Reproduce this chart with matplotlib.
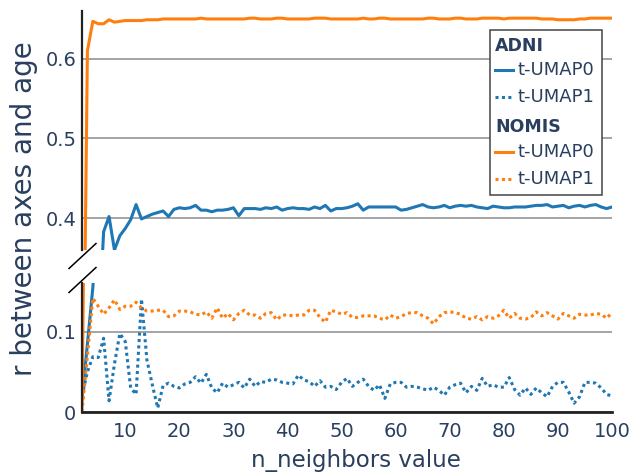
import numpy as np
import matplotlib
matplotlib.use("Agg")
import matplotlib.pyplot as plt
from matplotlib.lines import Line2D
from matplotlib.patches import Rectangle

n_neighbors = np.arange(2, 101)

adni_umap0 = [
    0.015, 0.085, 0.155, 0.250, 0.383, 0.402, 0.360, 0.378, 0.387, 0.398,
    0.417, 0.399, 0.402, 0.405, 0.407, 0.409, 0.402, 0.411, 0.413, 0.412,
    0.413, 0.416, 0.410, 0.410, 0.408, 0.410, 0.410, 0.411, 0.413, 0.403,
    0.412, 0.412, 0.412, 0.411, 0.413, 0.412, 0.414, 0.410, 0.412, 0.413,
    0.412, 0.412, 0.411, 0.414, 0.412, 0.416, 0.409, 0.412, 0.412, 0.413,
    0.415, 0.418, 0.410, 0.414, 0.414, 0.414, 0.414, 0.414, 0.414, 0.410,
    0.411, 0.413, 0.415, 0.417, 0.414, 0.413, 0.414, 0.416, 0.413, 0.415,
    0.416, 0.415, 0.416, 0.414, 0.413, 0.412, 0.415, 0.414, 0.413, 0.413,
    0.414, 0.414, 0.414, 0.415, 0.416, 0.416, 0.417, 0.414, 0.415, 0.416,
    0.413, 0.415, 0.416, 0.414, 0.416, 0.417, 0.414, 0.412, 0.414,
]
adni_umap1 = [
    0.020, 0.050, 0.069, 0.068, 0.092, 0.014, 0.060, 0.098, 0.088, 0.030,
    0.022, 0.141, 0.065, 0.034, 0.005, 0.033, 0.036, 0.032, 0.030, 0.035,
    0.037, 0.044, 0.036, 0.047, 0.030, 0.024, 0.036, 0.031, 0.034, 0.037,
    0.030, 0.041, 0.032, 0.038, 0.037, 0.041, 0.040, 0.037, 0.036, 0.035,
    0.046, 0.040, 0.038, 0.032, 0.039, 0.031, 0.032, 0.028, 0.037, 0.042,
    0.032, 0.037, 0.041, 0.032, 0.027, 0.034, 0.017, 0.035, 0.037, 0.037,
    0.031, 0.032, 0.031, 0.029, 0.027, 0.031, 0.027, 0.021, 0.031, 0.034,
    0.036, 0.024, 0.032, 0.027, 0.042, 0.032, 0.034, 0.031, 0.031, 0.043,
    0.028, 0.021, 0.030, 0.022, 0.030, 0.024, 0.019, 0.032, 0.037, 0.037,
    0.025, 0.011, 0.019, 0.037, 0.037, 0.036, 0.030, 0.022, 0.020,
]
nomis_umap0 = [
    0.005, 0.610, 0.647, 0.644, 0.644, 0.649, 0.646, 0.647, 0.648, 0.648,
    0.648, 0.648, 0.649, 0.649, 0.649, 0.650, 0.650, 0.650, 0.650, 0.650,
    0.650, 0.650, 0.651, 0.650, 0.650, 0.650, 0.650, 0.650, 0.650, 0.650,
    0.650, 0.651, 0.651, 0.650, 0.650, 0.650, 0.651, 0.651, 0.650, 0.650,
    0.650, 0.650, 0.650, 0.651, 0.651, 0.651, 0.650, 0.650, 0.650, 0.650,
    0.650, 0.650, 0.651, 0.650, 0.650, 0.651, 0.651, 0.650, 0.650, 0.650,
    0.650, 0.650, 0.650, 0.650, 0.651, 0.651, 0.650, 0.650, 0.650, 0.651,
    0.651, 0.650, 0.650, 0.650, 0.651, 0.651, 0.651, 0.651, 0.650, 0.651,
    0.651, 0.651, 0.651, 0.651, 0.651, 0.650, 0.650, 0.650, 0.649, 0.649,
    0.649, 0.649, 0.650, 0.650, 0.651, 0.651, 0.651, 0.651, 0.651,
]
nomis_umap1 = [
    0.000, 0.070, 0.142, 0.132, 0.122, 0.130, 0.140, 0.128, 0.132, 0.132,
    0.137, 0.130, 0.126, 0.126, 0.127, 0.127, 0.119, 0.120, 0.126, 0.126,
    0.125, 0.122, 0.121, 0.125, 0.117, 0.130, 0.117, 0.123, 0.115, 0.123,
    0.127, 0.121, 0.121, 0.117, 0.123, 0.124, 0.115, 0.121, 0.121, 0.120,
    0.121, 0.121, 0.127, 0.127, 0.118, 0.112, 0.127, 0.125, 0.122, 0.124,
    0.118, 0.118, 0.120, 0.120, 0.120, 0.117, 0.115, 0.121, 0.117, 0.119,
    0.123, 0.124, 0.124, 0.120, 0.117, 0.110, 0.119, 0.124, 0.125, 0.124,
    0.122, 0.117, 0.116, 0.119, 0.115, 0.119, 0.117, 0.120, 0.127, 0.117,
    0.123, 0.117, 0.116, 0.118, 0.125, 0.120, 0.124, 0.120, 0.116, 0.123,
    0.120, 0.117, 0.122, 0.121, 0.121, 0.123, 0.122, 0.117, 0.124,
]

x_ticks = [10, 20, 30, 40, 50, 60, 70, 80, 90, 100]
top_ticks = [0.4, 0.5, 0.6]
top_labels = ["0.4", "0.5", "0.6"]
bottom_ticks = [0, 0.1]
bottom_labels = ["0", "0.1"]

BLUE = "#1f77b4"
ORANGE = "#ff7f0e"
TEXT = "#2a3f5f"
GRID = "#8c8c8c"
W, H = 634, 476

series = [
    ("ADNI", "t-UMAP0", adni_umap0, BLUE, "-"),
    ("ADNI", "t-UMAP1", adni_umap1, BLUE, (0, (1, 1.1))),
    ("NOMIS", "t-UMAP0", nomis_umap0, ORANGE, "-"),
    ("NOMIS", "t-UMAP1", nomis_umap1, ORANGE, (0, (1, 1.1))),
]


def fx(px):
    return px / W


def fy(py):
    return 1 - py / H


fig = plt.figure(figsize=(W / 100, H / 100), dpi=100)
ax_top = fig.add_axes([fx(82), fy(250), fx(612) - fx(82), fy(11) - fy(250)])
ax_bot = fig.add_axes([fx(82), fy(412), fx(612) - fx(82), fy(283) - fy(412)])

for ax in (ax_top, ax_bot):
    for name, label, vals, color, ls in series:
        ax.plot(n_neighbors, vals, color=color, linestyle=ls, linewidth=2.2,
                dash_capstyle="butt", solid_joinstyle="round")
    ax.set_xlim(2, 100)
    ax.spines["top"].set_visible(False)
    ax.spines["right"].set_visible(False)
    ax.spines["left"].set_color("#222222")
    ax.spines["left"].set_linewidth(1.6)
    ax.yaxis.grid(True, color=GRID, linewidth=1.1)
    ax.set_axisbelow(True)
    ax.tick_params(axis="y", length=0, pad=4, labelsize=14, labelcolor=TEXT)
    ax.tick_params(axis="x", length=0, pad=7, labelsize=14, labelcolor=TEXT)

ax_top.set_ylim(0.36, 0.66)
ax_top.set_yticks(top_ticks, top_labels)
ax_top.spines["bottom"].set_visible(False)
ax_top.set_xticks([])

ax_bot.set_ylim(0, 0.161)
ax_bot.set_yticks(bottom_ticks, bottom_labels)
ax_bot.set_xticks(x_ticks)
ax_bot.spines["bottom"].set_color("#222222")
ax_bot.spines["bottom"].set_linewidth(2.0)

# axis break marks
for cy in (256, 280):
    fig.add_artist(Line2D([fx(69), fx(96)], [fy(cy + 12.5), fy(cy - 12.5)],
                          color="black", linewidth=1.1))

fig.text(fx(24), fy(209), "r between axes and age", rotation=90,
         ha="center", va="center", fontsize=20, color=TEXT)
fig.text(fx(356), fy(461), "n_neighbors value", ha="center", va="center",
         fontsize=16.5, color=TEXT)

# legend, grouped like the original
fig.add_artist(Rectangle((fx(490), fy(195)), fx(602) - fx(490), fy(30) - fy(195),
                         facecolor="white", edgecolor="#444444", linewidth=1.1,
                         transform=fig.transFigure, zorder=5))
rows = [46, 70, 97, 127, 152, 179]
i = 0
for group in ("ADNI", "NOMIS"):
    fig.text(fx(495), fy(rows[i]), group, fontsize=12.5, fontweight="bold",
             color=TEXT, va="center", ha="left", zorder=6)
    i += 1
    for name, label, vals, color, ls in series:
        if name != group:
            continue
        fig.add_artist(Line2D([fx(495), fx(513)], [fy(rows[i]), fy(rows[i])],
                              color=color, linestyle=ls, linewidth=2.2,
                              dash_capstyle="butt", zorder=6))
        fig.text(fx(518), fy(rows[i]), label, fontsize=13, color=TEXT,
                 va="center", ha="left", zorder=6)
        i += 1

fig.savefig("out.png", dpi=100)
